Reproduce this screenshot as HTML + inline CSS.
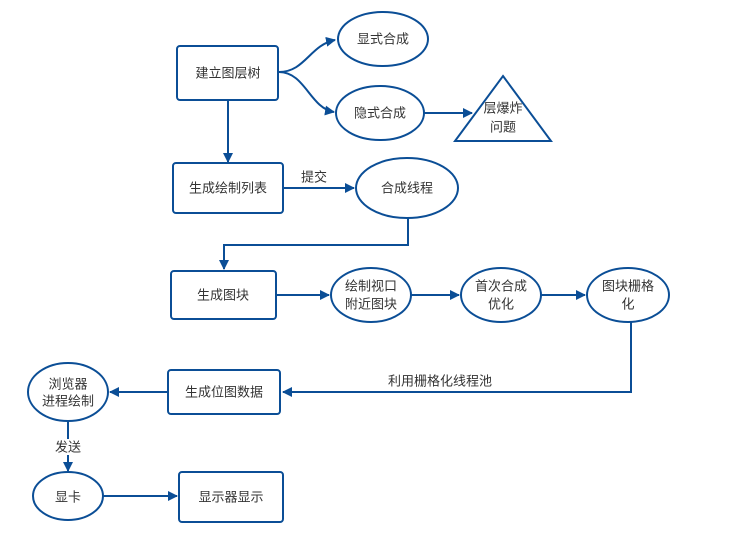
<!DOCTYPE html>
<html><head><meta charset="utf-8"><style>
html,body{margin:0;padding:0;background:#fff;}
svg{display:block;}
text{font-family:"Liberation Sans","Noto Sans CJK SC",sans-serif;font-size:13px;fill:#333;text-anchor:middle;dominant-baseline:central;}
.s{fill:#fff;stroke:#0b4e96;stroke-width:2;}
.l{fill:none;stroke:#0b4e96;stroke-width:2;}
</style></head><body>
<svg width="736" height="549" viewBox="0 0 736 549">
<defs><marker id="a" markerWidth="10" markerHeight="10" refX="9" refY="5" orient="auto" markerUnits="userSpaceOnUse"><path d="M0,0 L10,5 L0,10 z" fill="#0b4e96"/></marker></defs>
<!-- connectors -->
<path class="l" d="M279,72 C305,72 310,45 335,40" marker-end="url(#a)"/>
<path class="l" d="M279,72 C305,72 310,108 334,112" marker-end="url(#a)"/>
<path class="l" d="M424,113 L472,113" marker-end="url(#a)"/>
<path class="l" d="M228,100 L228,162" marker-end="url(#a)"/>
<path class="l" d="M283,188 L354,188" marker-end="url(#a)"/>
<path class="l" d="M408,218 L408,245 L224,245 L224,269" marker-end="url(#a)"/>
<path class="l" d="M276,295 L329,295" marker-end="url(#a)"/>
<path class="l" d="M411,295 L459,295" marker-end="url(#a)"/>
<path class="l" d="M541,295 L585,295" marker-end="url(#a)"/>
<path class="l" d="M631,322 L631,392 L283,392" marker-end="url(#a)"/>
<path class="l" d="M168,392 L110,392" marker-end="url(#a)"/>
<path class="l" d="M68,421 L68,471" marker-end="url(#a)"/>
<path class="l" d="M103,496 L177,496" marker-end="url(#a)"/>
<!-- nodes -->
<rect class="s" x="177" y="46" width="101" height="54" rx="3"/><text x="228" y="73">建立图层树</text>
<ellipse class="s" cx="383" cy="39" rx="45" ry="27"/><text x="383" y="39">显式合成</text>
<ellipse class="s" cx="380" cy="113" rx="44" ry="27"/><text x="380" y="113">隐式合成</text>
<polygon class="s" points="503,76 551,141 455,141"/><text x="503" y="108">层爆炸</text><text x="503" y="127">问题</text>
<rect class="s" x="173" y="163" width="110" height="50" rx="3"/><text x="228" y="188">生成绘制列表</text>
<text x="314" y="177">提交</text>
<ellipse class="s" cx="407" cy="188" rx="51" ry="30"/><text x="407" y="188">合成线程</text>
<rect class="s" x="171" y="271" width="105" height="48" rx="3"/><text x="223" y="295">生成图块</text>
<ellipse class="s" cx="371" cy="295" rx="40" ry="27"/><text x="371" y="286">绘制视口</text><text x="371" y="304">附近图块</text>
<ellipse class="s" cx="501" cy="295" rx="40" ry="27"/><text x="501" y="286">首次合成</text><text x="501" y="304">优化</text>
<ellipse class="s" cx="628" cy="295" rx="41" ry="27"/><text x="628" y="286">图块栅格</text><text x="628" y="304">化</text>
<text x="440" y="381">利用栅格化线程池</text>
<rect class="s" x="168" y="370" width="112" height="44" rx="3"/><text x="224" y="392">生成位图数据</text>
<ellipse class="s" cx="68" cy="392" rx="40" ry="29"/><text x="68" y="384">浏览器</text><text x="68" y="401">进程绘制</text>
<rect x="52" y="439" width="32" height="16" fill="#fff"/><text x="68" y="447">发送</text>
<ellipse class="s" cx="68" cy="496" rx="35" ry="24"/><text x="68" y="497">显卡</text>
<rect class="s" x="179" y="472" width="104" height="50" rx="3"/><text x="231" y="497">显示器显示</text>
</svg>
</body></html>
